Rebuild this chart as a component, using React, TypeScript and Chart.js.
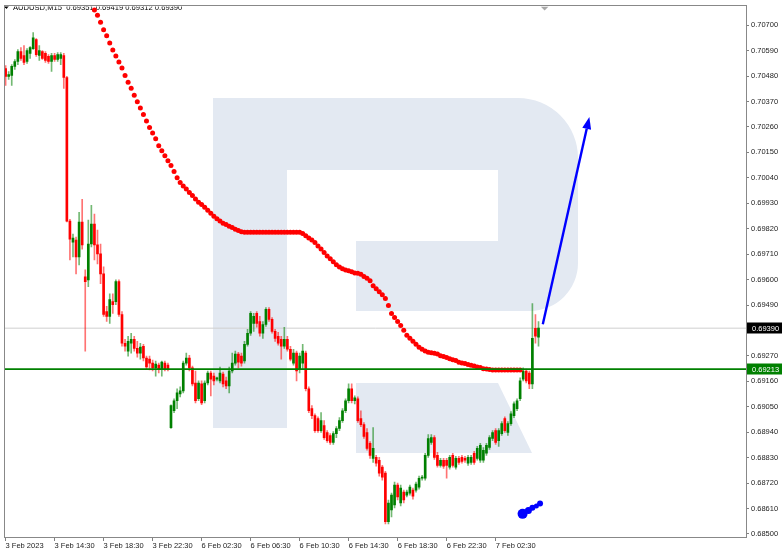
import React, { useEffect, useRef } from "react";
import { Chart, registerables } from "chart.js";

Chart.register(...registerables);

// ---------- DATA ----------
const symbolTitle = "AUDUSD,M15";
const lastBarOHLC = [0.69351, 0.69419, 0.69312, 0.69390];

const tickBars = [0, 16, 32, 48, 64, 80, 96, 112, 128, 144, 160];
const tickLabels = [
  "3 Feb 2023", "3 Feb 14:30", "3 Feb 18:30", "3 Feb 22:30", "6 Feb 02:30",
  "6 Feb 06:30", "6 Feb 10:30", "6 Feb 14:30", "6 Feb 18:30", "6 Feb 22:30", "7 Feb 02:30",
];
const priceTicks = [
  0.707, 0.7059, 0.7048, 0.7037, 0.7026, 0.7015, 0.7004, 0.6993, 0.6982, 0.6971,
  0.696, 0.6949, 0.6927, 0.6916, 0.6905, 0.6894, 0.6883, 0.6872, 0.6861, 0.685,
];
const priceMin = 0.68487;
const priceMax = 0.70781;
const barMin = -0.2;
const barMax = 241.75;

const opens = [
  0.70513,0.70479,0.70483,0.70522,0.70543,0.70586,0.70569,0.70543,0.70578,0.70599,
  0.70638,0.70569,0.70586,0.70578,0.70565,0.70543,0.70569,0.70552,0.70556,0.70569,
  0.70474,0.69853,0.69762,0.69771,0.69698,0.69849,0.69612,0.69599,0.69754,0.69840,
  0.69750,0.69711,0.69625,0.69462,0.69441,0.69505,0.69505,0.69591,0.69449,0.69325,
  0.69291,0.69325,0.69342,0.69303,0.69282,0.69312,0.69261,0.69256,0.69239,0.69218,
  0.69230,0.69213,0.69239,0.69230,0.68960,0.69033,0.69076,0.69106,0.69119,0.69239,
  0.69261,0.69218,0.69153,0.69085,0.69149,0.69076,0.69153,0.69196,0.69183,0.69170,
  0.69162,0.69192,0.69162,0.69140,0.69205,0.69239,0.69278,0.69269,0.69248,0.69320,
  0.69368,0.69411,0.69454,0.69419,0.69368,0.69406,0.69471,0.69428,0.69376,0.69355,
  0.69342,0.69312,0.69342,0.69299,0.69239,0.69282,0.69213,0.69239,0.69282,0.69128,
  0.69042,0.69012,0.68999,0.68947,0.68969,0.68939,0.68926,0.68896,0.68934,0.68956,
  0.68990,0.69033,0.69076,0.69128,0.69076,0.69085,0.68999,0.68973,0.68939,0.68892,
  0.68827,0.68831,0.68819,0.68789,0.68763,0.68553,0.68604,0.68626,0.68711,0.68634,
  0.68681,0.68668,0.68677,0.68690,0.68690,0.68703,0.68741,0.68741,0.68840,0.68896,
  0.68917,0.68840,0.68797,0.68819,0.68819,0.68789,0.68840,0.68789,0.68827,0.68831,
  0.68827,0.68806,0.68810,0.68849,0.68827,0.68819,0.68819,0.68849,0.68874,0.68913,
  0.68947,0.68904,0.68934,0.68999,0.68939,0.68977,0.69012,0.69042,0.69085,0.69170,
  0.69205,0.69196,0.69149,0.69389,0.69351,
];
const highs = [
  0.70526,0.70500,0.70530,0.70552,0.70595,0.70603,0.70612,0.70599,0.70608,0.70668,
  0.70642,0.70612,0.70590,0.70586,0.70573,0.70578,0.70578,0.70582,0.70582,0.70578,
  0.70479,0.69861,0.69797,0.69784,0.69891,0.69947,0.69642,0.69857,0.69921,0.69883,
  0.69814,0.69754,0.69655,0.69484,0.69539,0.69539,0.69599,0.69599,0.69462,0.69342,
  0.69355,0.69368,0.69355,0.69333,0.69325,0.69320,0.69269,0.69269,0.69252,0.69248,
  0.69239,0.69248,0.69248,0.69239,0.69059,0.69085,0.69128,0.69136,0.69248,0.69282,
  0.69273,0.69226,0.69205,0.69162,0.69162,0.69162,0.69205,0.69205,0.69196,0.69179,
  0.69222,0.69200,0.69179,0.69222,0.69282,0.69291,0.69286,0.69282,0.69333,0.69385,
  0.69462,0.69454,0.69462,0.69441,0.69419,0.69479,0.69479,0.69436,0.69385,0.69372,
  0.69355,0.69394,0.69355,0.69312,0.69299,0.69291,0.69282,0.69320,0.69291,0.69136,
  0.69055,0.69020,0.69007,0.69025,0.68990,0.68947,0.68934,0.68943,0.68964,0.69003,
  0.69042,0.69085,0.69149,0.69149,0.69097,0.69093,0.69033,0.68982,0.68956,0.68900,
  0.68960,0.68840,0.68831,0.68797,0.68771,0.68647,0.68677,0.68724,0.68720,0.68711,
  0.68690,0.68690,0.68711,0.68699,0.68724,0.68750,0.68754,0.68849,0.68930,0.68930,
  0.68926,0.68853,0.68827,0.68827,0.68827,0.68840,0.68849,0.68836,0.68836,0.68840,
  0.68836,0.68840,0.68840,0.68857,0.68879,0.68892,0.68874,0.68892,0.68926,0.68947,
  0.68956,0.68956,0.68986,0.69007,0.68986,0.69029,0.69072,0.69085,0.69175,0.69218,
  0.69213,0.69205,0.69496,0.69449,0.69419,
];
const lows = [
  0.70440,0.70466,0.70440,0.70509,0.70530,0.70548,0.70530,0.70535,0.70556,0.70595,
  0.70565,0.70548,0.70552,0.70539,0.70535,0.70500,0.70543,0.70543,0.70530,0.70427,
  0.69849,0.69685,0.69698,0.69625,0.69664,0.69732,0.69291,0.69569,0.69741,0.69685,
  0.69668,0.69582,0.69441,0.69419,0.69411,0.69454,0.69492,0.69441,0.69312,0.69291,
  0.69269,0.69282,0.69291,0.69265,0.69256,0.69248,0.69213,0.69209,0.69205,0.69183,
  0.69196,0.69183,0.69205,0.69205,0.68956,0.69025,0.69042,0.69093,0.69110,0.69230,
  0.69205,0.69140,0.69067,0.69076,0.69059,0.69067,0.69145,0.69097,0.69145,0.69162,
  0.69153,0.69136,0.69128,0.69110,0.69196,0.69230,0.69218,0.69226,0.69239,0.69312,
  0.69359,0.69376,0.69394,0.69355,0.69346,0.69398,0.69419,0.69368,0.69333,0.69316,
  0.69256,0.69303,0.69291,0.69248,0.69230,0.69162,0.69196,0.69213,0.69119,0.69025,
  0.68999,0.68939,0.68939,0.68939,0.68909,0.68896,0.68887,0.68887,0.68917,0.68947,
  0.68982,0.69025,0.69067,0.69067,0.69063,0.68982,0.68964,0.68913,0.68862,0.68827,
  0.68810,0.68793,0.68750,0.68733,0.68544,0.68544,0.68574,0.68613,0.68647,0.68621,
  0.68634,0.68660,0.68668,0.68651,0.68681,0.68694,0.68733,0.68733,0.68831,0.68887,
  0.68823,0.68789,0.68789,0.68784,0.68741,0.68780,0.68789,0.68780,0.68801,0.68806,
  0.68810,0.68797,0.68801,0.68801,0.68819,0.68810,0.68810,0.68840,0.68866,0.68904,
  0.68887,0.68879,0.68926,0.68939,0.68926,0.68969,0.69003,0.69033,0.69076,0.69162,
  0.69153,0.69128,0.69128,0.69325,0.69312,
];
const closes = [
  0.70479,0.70487,0.70522,0.70543,0.70586,0.70556,0.70539,0.70590,0.70603,0.70646,
  0.70573,0.70590,0.70556,0.70548,0.70543,0.70569,0.70552,0.70573,0.70573,0.70474,
  0.69853,0.69775,0.69780,0.69698,0.69849,0.69750,0.69591,0.69754,0.69840,0.69750,
  0.69711,0.69625,0.69449,0.69441,0.69514,0.69492,0.69591,0.69449,0.69325,0.69312,
  0.69333,0.69342,0.69303,0.69282,0.69308,0.69261,0.69222,0.69239,0.69218,0.69235,
  0.69213,0.69243,0.69213,0.69213,0.69055,0.69076,0.69110,0.69119,0.69239,0.69261,
  0.69218,0.69149,0.69076,0.69153,0.69067,0.69153,0.69196,0.69170,0.69162,0.69175,
  0.69196,0.69149,0.69140,0.69205,0.69239,0.69278,0.69243,0.69239,0.69320,0.69368,
  0.69454,0.69441,0.69411,0.69368,0.69406,0.69471,0.69428,0.69376,0.69346,0.69325,
  0.69312,0.69342,0.69299,0.69256,0.69282,0.69205,0.69269,0.69291,0.69128,0.69033,
  0.69012,0.68947,0.68947,0.68990,0.68917,0.68904,0.68896,0.68934,0.68956,0.68990,
  0.69033,0.69076,0.69128,0.69076,0.69089,0.68990,0.68973,0.68922,0.68870,0.68840,
  0.68870,0.68806,0.68763,0.68746,0.68553,0.68634,0.68668,0.68711,0.68660,0.68699,
  0.68647,0.68681,0.68703,0.68664,0.68716,0.68741,0.68746,0.68840,0.68913,0.68917,
  0.68831,0.68797,0.68819,0.68793,0.68797,0.68831,0.68797,0.68827,0.68810,0.68814,
  0.68819,0.68831,0.68831,0.68810,0.68870,0.68883,0.68862,0.68883,0.68917,0.68939,
  0.68896,0.68947,0.68977,0.68947,0.68977,0.69020,0.69063,0.69076,0.69162,0.69205,
  0.69162,0.69149,0.69346,0.69355,0.69390,
];

// moving average (red dotted line), starts at bar 29
const maStartBar = 29;
const maValues = [
  0.70766,0.70743,0.70713,0.70680,0.70655,0.70623,0.70593,0.70567,0.70541,0.70515,
  0.70483,0.70453,0.70427,0.70397,0.70369,0.70342,0.70314,0.70286,0.70258,0.70234,
  0.70209,0.70179,0.70157,0.70136,0.70114,0.70093,0.70067,0.70041,0.70020,0.70005,
  0.69992,0.69977,0.69964,0.69949,0.69934,0.69925,0.69913,0.69900,0.69887,0.69874,
  0.69863,0.69853,0.69844,0.69838,0.69831,0.69825,0.69818,0.69812,0.69807,0.69805,
  0.69805,0.69805,0.69805,0.69805,0.69805,0.69805,0.69805,0.69805,0.69805,0.69805,
  0.69805,0.69805,0.69805,0.69805,0.69805,0.69805,0.69805,0.69805,0.69799,0.69790,
  0.69780,0.69771,0.69760,0.69745,0.69732,0.69717,0.69702,0.69690,0.69677,0.69664,
  0.69655,0.69647,0.69642,0.69638,0.69634,0.69629,0.69627,0.69623,0.69614,0.69606,
  0.69595,0.69574,0.69561,0.69548,0.69535,0.69518,0.69488,0.69454,0.69436,0.69419,
  0.69402,0.69381,0.69359,0.69346,0.69333,0.69320,0.69308,0.69299,0.69291,0.69286,
  0.69284,0.69282,0.69278,0.69271,0.69267,0.69263,0.69258,0.69254,0.69250,0.69243,
  0.69239,0.69237,0.69233,0.69230,0.69226,0.69222,0.69220,0.69215,0.69213,0.69211,
  0.69209,0.69209,0.69209,0.69209,0.69209,0.69209,0.69209,0.69209,0.69209,0.69209,
];

const supportLevel = 0.69213;
const lastPrice = 0.69390;

// forecast arrow (bar index, price)
const arrowBars = [175.4, 190.6];
const arrowPrices = [0.69407, 0.70303];

// blue marker trail at the bottom
const blueBars = [168.8, 170.7, 172.0, 173.3, 174.5];
const bluePrices = [0.68587, 0.68602, 0.68613, 0.68621, 0.68632];
const blueRadii = [5, 3.5, 3, 2.5, 3];

// ---------- STYLE ----------
const GREEN = "#008000";
const RED = "#ff0000";
const FONT = "'Liberation Sans', Arial, sans-serif";
const LOGO = "#e3e9f2";

const decorPlugin = {
  id: "decor",
  beforeDatasetsDraw(chart: any) {
    const { ctx, chartArea: a } = chart;
    ctx.save();
    ctx.beginPath();
    ctx.rect(a.left, a.top, a.right - a.left, a.bottom - a.top);
    ctx.clip();
    // watermark logo
    ctx.fillStyle = LOGO;
    ctx.beginPath();
    ctx.moveTo(213, 98);
    ctx.lineTo(518, 98);
    ctx.arcTo(578, 98, 578, 158, 60);
    ctx.lineTo(578, 263);
    ctx.arcTo(578, 311, 530, 311, 48);
    ctx.lineTo(356, 311);
    ctx.lineTo(356, 241);
    ctx.lineTo(498, 241);
    ctx.lineTo(498, 170);
    ctx.lineTo(287, 170);
    ctx.lineTo(287, 428);
    ctx.lineTo(213, 428);
    ctx.closePath();
    ctx.fill();
    ctx.beginPath();
    ctx.moveTo(356, 383);
    ctx.lineTo(498, 383);
    ctx.lineTo(532, 453);
    ctx.lineTo(356, 453);
    ctx.closePath();
    ctx.fill();
    // title
    ctx.fillStyle = "#000";
    ctx.beginPath();
    ctx.moveTo(4, 6);
    ctx.lineTo(9, 6);
    ctx.lineTo(6.5, 9);
    ctx.closePath();
    ctx.fill();
    ctx.font = `7.6px ${FONT}`;
    ctx.textBaseline = "middle";
    ctx.textAlign = "left";
    ctx.fillText(
      `${symbolTitle}  ${lastBarOHLC.map((v) => v.toFixed(5)).join(" ")}`,
      13,
      8
    );
    // chart shift marker
    const sx = chart.scales.x.getPixelForValue(opens.length + 1);
    ctx.fillStyle = "#a8a8a8";
    ctx.beginPath();
    ctx.moveTo(sx - 4, a.top);
    ctx.lineTo(sx + 4, a.top);
    ctx.lineTo(sx, a.top + 4);
    ctx.closePath();
    ctx.fill();
    ctx.restore();
  },
  afterDatasetsDraw(chart: any) {
    const { ctx, chartArea: a, scales } = chart;
    const x0 = scales.x.getPixelForValue(arrowBars[0]);
    const y0 = scales.y.getPixelForValue(arrowPrices[0]);
    const x1 = scales.x.getPixelForValue(arrowBars[1]);
    const y1 = scales.y.getPixelForValue(arrowPrices[1]);
    const ang = Math.atan2(y1 - y0, x1 - x0);
    const headLen = 12;
    const headW = 4.5;
    const bx = x1 - headLen * Math.cos(ang);
    const by = y1 - headLen * Math.sin(ang);
    ctx.save();
    ctx.beginPath();
    ctx.rect(a.left, a.top, a.right - a.left, a.bottom - a.top);
    ctx.clip();
    ctx.strokeStyle = "#0000ff";
    ctx.fillStyle = "#0000ff";
    ctx.lineWidth = 2.4;
    ctx.beginPath();
    ctx.moveTo(x0, y0);
    ctx.lineTo(bx, by);
    ctx.stroke();
    ctx.beginPath();
    ctx.moveTo(x1, y1);
    ctx.lineTo(bx + headW * Math.sin(ang), by - headW * Math.cos(ang));
    ctx.lineTo(bx - headW * Math.sin(ang), by + headW * Math.cos(ang));
    ctx.closePath();
    ctx.fill();
    ctx.restore();
  },
  afterDraw(chart: any) {
    const { ctx, chartArea: a, scales } = chart;
    ctx.save();
    // frame
    ctx.strokeStyle = "#888";
    ctx.lineWidth = 1;
    ctx.strokeRect(Math.floor(a.left) - 0.5, Math.floor(a.top) - 0.5, Math.round(a.right - a.left) + 1, Math.round(a.bottom - a.top) + 1);
    // price boxes
    const box = (price: number, bg: string) => {
      const y = scales.y.getPixelForValue(price);
      ctx.fillStyle = bg;
      ctx.fillRect(a.right + 1, Math.round(y) - 5.5, 782 - a.right - 1, 11);
      ctx.fillStyle = "#fff";
      ctx.font = `7.5px ${FONT}`;
      ctx.textBaseline = "middle";
      ctx.textAlign = "left";
      ctx.fillText(price.toFixed(5), a.right + 6, Math.round(y) + 0.5);
    };
    box(lastPrice, "#000");
    box(supportLevel, GREEN);
    ctx.restore();
  },
};

export default function App() {
  const ref = useRef<HTMLCanvasElement>(null);
  useEffect(() => {
    const canvas = ref.current!;
    const idx = opens.map((_, i) => i);
    const up = idx.map((i) => closes[i] >= opens[i]);
    const wickData = idx.map((i) => ({ x: i, y: [lows[i], highs[i]] }));
    const bodyData = idx.map((i) => ({ x: i, y: [opens[i], closes[i]] }));
    const maData = maValues.map((v, k) => ({ x: maStartBar + k, y: v }));
    const blueData = blueBars.map((b, k) => ({ x: b, y: bluePrices[k] }));

    const chart = new Chart(canvas, {
      type: "bar",
      data: {
        datasets: [
          {
            type: "line",
            data: [ { x: barMin, y: lastPrice }, { x: barMax, y: lastPrice } ],
            borderColor: "#cfcfcf",
            borderWidth: 1,
            pointRadius: 0,
            order: 8,
          } as any,
          {
            type: "bar",
            data: wickData as any,
            backgroundColor: up.map((u) => (u ? "rgba(0,128,0,0.55)" : "rgba(255,0,0,0.55)")),
            barThickness: 1,
            grouped: false,
            borderWidth: 0,
            order: 7,
          },
          {
            type: "bar",
            data: bodyData as any,
            backgroundColor: up.map((u) => (u ? GREEN : RED)),
            barThickness: 2,
            grouped: false,
            borderWidth: 0,
            minBarLength: 1,
            order: 6,
          },
          {
            type: "line",
            data: maData,
            showLine: false,
            pointRadius: 2.5,
            pointBackgroundColor: RED,
            pointBorderWidth: 0,
            borderColor: RED,
            order: 5,
          } as any,
          {
            type: "line",
            data: [ { x: barMin, y: supportLevel }, { x: barMax, y: supportLevel } ],
            borderColor: GREEN,
            borderWidth: 1.6,
            pointRadius: 0,
            order: 4,
          } as any,
          {
            type: "line",
            data: blueData,
            borderColor: "#0000ff",
            borderWidth: 2,
            pointRadius: blueRadii,
            pointBackgroundColor: "#0000ff",
            pointBorderWidth: 0,
            order: 2,
          } as any,
        ],
      },
      options: {
        responsive: false,
        animation: false,
        devicePixelRatio: 1,
        events: [],
        layout: { padding: { left: 2, top: 2, right: 0, bottom: 0 } },
        plugins: { legend: { display: false }, tooltip: { enabled: false } },
        scales: {
          x: {
            type: "linear",
            min: barMin,
            max: barMax,
            offset: false,
            border: { display: false },
            grid: { display: true, drawOnChartArea: false, drawTicks: true, tickLength: 4, color: "#808080", offset: false },
            afterBuildTicks: (s: any) => {
              s.ticks = tickBars.map((v) => ({ value: v }));
            },
            afterFit: (s: any) => {
              s.height = 16;
            },
            ticks: {
              autoSkip: false,
              maxRotation: 0,
              minRotation: 0,
              align: "start",
              padding: 0,
              color: "#1c1c1c",
              font: { family: FONT, size: 7.5 },
              callback: (_v: any, i: number) => tickLabels[i],
            },
          },
          y: {
            type: "linear",
            position: "right",
            min: priceMin,
            max: priceMax,
            border: { display: false },
            grid: { display: true, drawOnChartArea: false, drawTicks: true, tickLength: 3, color: "#808080" },
            afterBuildTicks: (s: any) => {
              s.ticks = priceTicks.map((v) => ({ value: v }));
            },
            afterFit: (s: any) => {
              s.width = 36;
            },
            ticks: {
              autoSkip: false,
              padding: 2,
              color: "#1c1c1c",
              font: { family: FONT, size: 7.5 },
              callback: (v: any) => Number(v).toFixed(5),
            },
          },
        },
      },
      plugins: [decorPlugin],
    } as any);
    return () => chart.destroy();
  }, []);

  return (
    <div style={{ position: "fixed", left: 0, top: 0, width: 782, height: 553, background: "#fff" }}>
      <canvas ref={ref} width={782} height={553} style={{ display: "block" }} />
    </div>
  );
}
